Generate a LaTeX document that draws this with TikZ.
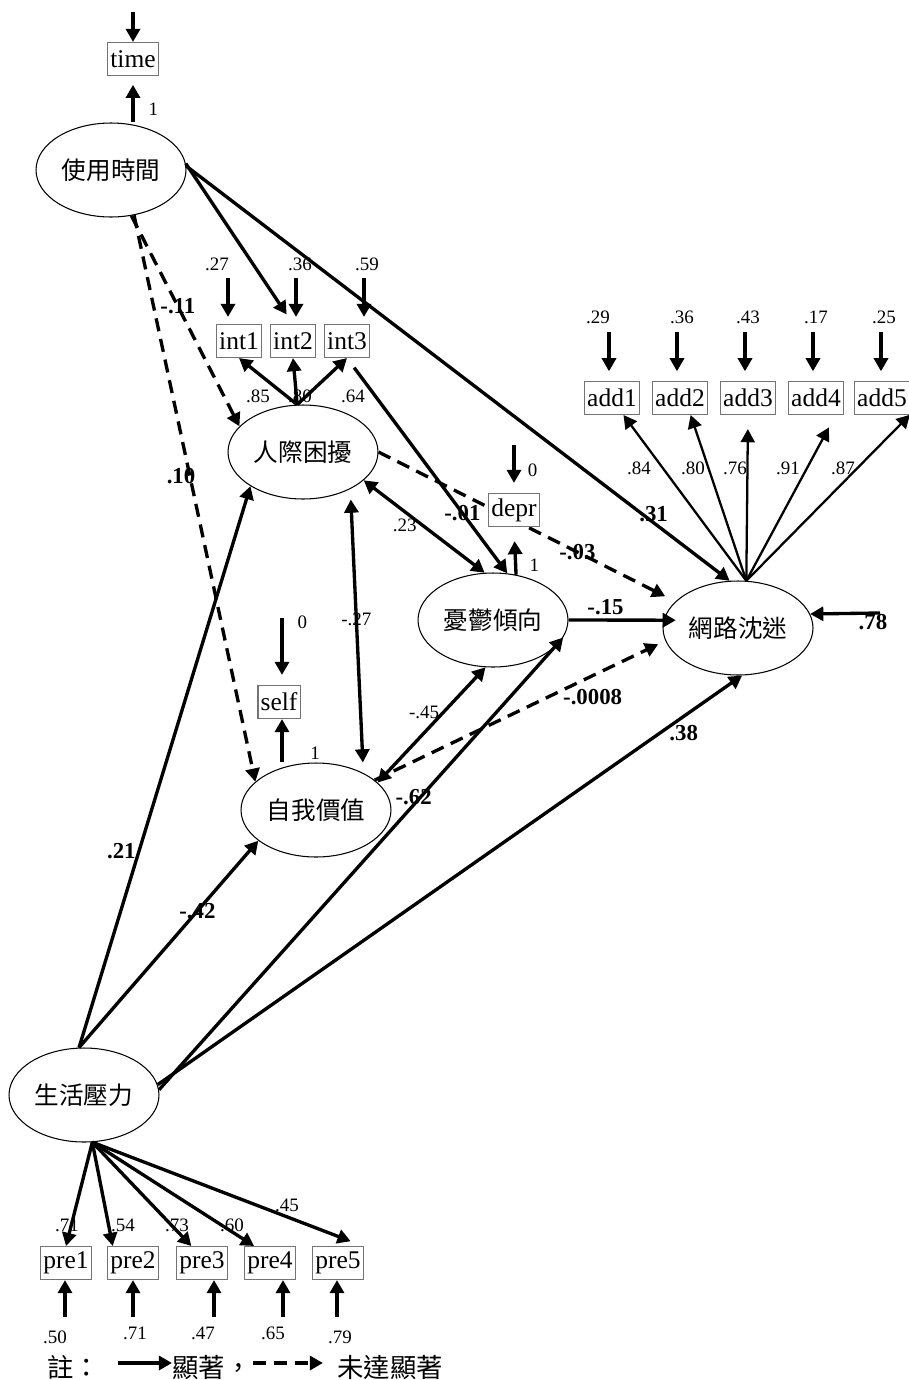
\documentclass[tikz,border=0pt]{standalone}
\usepackage{fontspec}
\setmainfont{Liberation Serif}
\newfontfamily\cjk{Noto Sans CJK TC}
\usetikzlibrary{arrows.meta,shapes.geometric}

\tikzstyle{latent}=[ellipse,draw,line width=0.6pt,minimum width=3cm,minimum height=1.88cm,inner sep=0pt,font=\cjk\fontsize{14}{16}\selectfont]
\tikzstyle{obs}=[rectangle,draw=black!55,fill=white,line width=0.6pt,inner xsep=1.5pt,inner ysep=0pt,minimum height=0.66cm,font=\fontsize{14.5}{16}\selectfont]
\tikzstyle{sig}=[->,line width=1.9pt]
\tikzstyle{nsig}=[sig,dash pattern=on 7.5pt off 4.5pt]
\tikzstyle{load}=[->,line width=1.3pt]
\tikzstyle{coef}=[inner sep=0pt,font=\fontsize{10.8}{12}\selectfont]
\tikzstyle{beta}=[inner sep=0pt,font=\bfseries\fontsize{13}{14}\selectfont]
\tikzstyle{legend}=[inner sep=0pt,font=\cjk\fontsize{15}{17}\selectfont]

\begin{document}
\begin{tikzpicture}[x=0.02cm, y=-0.02cm, >={Triangle[length=7.5pt,width=8pt]}]
	\useasboundingbox (0,0) rectangle (909,1380);

	% Latente Variablen
	\node(usage) at (111,170) [latent] {使用時間};
	\node(inter) at (303,452) [latent] {人際困擾};
	\node(depress) at (493,620) [latent] {憂鬱傾向};
	\node(addict) at (738,628) [latent] {網路沈迷};
	\node(selfw) at (316,810) [latent] {自我價值};
	\node(stress) at (84,1095) [latent] {生活壓力};

	% Indikatoren
	\node(time) at (133,59) [obs] {time};
	\foreach \i/\x in {1/239,2/293,3/347}
		\node(int\i) at (\x,341) [obs] {int\i};
	\foreach \i/\x in {1/612,2/680,3/748,4/816,5/882}
		\node(add\i) at (\x,398) [obs] {add\i};
	\node(self) at (279,702) [obs] {self};
	\foreach \i/\x in {1/66,2/133,3/202,4/270,5/338}
		\node(pre\i) at (\x,1263) [obs] {pre\i};

	% hinter depr
	\draw[nsig, shorten >=6.5pt] (inter.east) -- node[beta, pos=0.67]{-.03} (addict.157);
	\node(depr) at (514,510) [obs] {depr};

	% Pfade von usage
	\draw[sig, shorten >=5pt] (usage.north -| time) -- node[coef, pos=0.28, right=8pt]{1} (time.south);
	\draw[sig, shorten >=6.5pt] (usage.5) -- (int2.north);
	\draw[sig] (usage.3) -- node[beta, pos=0.86, yshift=5pt]{.31} (addict.100);
	\draw[nsig] (usage.-66) -- node[beta, pos=0.43]{-.11} (inter.158);
	\draw[nsig] (usage.-63) -- node[beta, pos=0.46, xshift=-5pt]{.10} (selfw.155);

	% Fehler
	\coordinate (etime) at (133,12);
	\draw[sig] (etime) -- (time.north);
	\foreach \i/\x/\lx/\val in {1/228/217/.27, 2/296/300/.36, 3/364/367/.59}
	{
		\coordinate (eint\i) at (\x,278);
		\draw[sig, shorten >=4pt] (eint\i) -- (eint\i |- int\i.north);
		\node[coef] at (\lx,264) {\val};
	}

	% Messmodell inter
	\foreach \i/\lx/\val in {1/258/.85, 2/300/.80, 3/353/.64}
	{
		\draw[sig] (inter.97) -- (int\i.south);
		\node[coef] at (\lx,396) {\val};
	}
	\draw[sig, shorten <=6.8pt] (int3.south) -- node[beta, pos=0.72]{-.01} (depress.73);

	% depr
	\coordinate (edepr) at (514,445);
	\draw[sig, shorten >=5.7pt] (edepr) -- node[coef, pos=0.52, right=7pt]{0} (depr.north);
	\draw[sig, shorten >=8pt] (depress.63) -- node[coef, pos=0.21, right=7pt]{1} (depr.south);

	% Strukturmodell
	\draw[sig, <->] (inter.-25) -- node[coef, pos=0.34, yshift=-8pt]{.23} (depress.100);
	\draw[sig, shorten >=-7pt] (depress.east) -- node[beta, pos=0.39, above=2pt]{-.15} (addict.174);
	\draw[nsig, shorten >=4.5pt] (selfw.27) -- node[beta, pos=0.75, below=7pt]{-.0008} (addict.190);
	\draw[sig, <->] (depress.-99) -- node[coef, pos=0.57, yshift=12pt]{-.45} (selfw.24);
	\draw[sig, <->, shorten <=6pt, shorten >=6pt] (inter.-38) -- node[coef, pos=0.46]{-.27} (selfw.38);

	% self
	\coordinate (eself) at (282,618);
	\draw[sig, shorten >=5.7pt] (eself) -- node[coef, pos=0.06, right=8pt]{0} (eself |- self.north);
	\draw[sig] (eself |- selfw.north) -- (eself |- self.south);
	\node[coef] at (315,753) {1};

	% Pfade von stress
	\draw[sig] (stress.96) -- node[beta, pos=0.35, left=1pt]{.21} (inter.-147);
	\draw[sig] (stress.96) -- node[beta, pos=0.66]{-.42} (selfw.-152);
	\draw[sig] (stress.4) -- node[beta, pos=0.63, yshift=4.5pt]{-.62} (depress.-14);
	\draw[sig] (stress.8) -- node[beta, pos=0.9, below=4pt]{.38} (addict.-85);

	% Messmodell addict
	\foreach \i/\a/\s/\lx/\val in {1/-56/0pt/639/.84, 2/-58/0pt/693/.80, 3/-90/8pt/735/.76, 4/-41/8pt/788/.91, 5/-31/0pt/843/.87}
	{
		\draw[load, shorten >=\s] (addict.80) -- (add\i.\a);
		\node[coef] at (\lx,468) {\val};
	}
	\foreach \i/\x/\lx/\val in {1/609/598/.29, 2/677/682/.36, 3/745/748/.43, 4/813/816/.17, 5/881/884/.25}
	{
		\coordinate (eadd\i) at (\x,332);
		\draw[sig, shorten >=5.5pt] (eadd\i) -- (eadd\i |- add\i.north);
		\node[coef] at (\lx,317) {\val};
	}
	\coordinate (eaddict) at (880,613);
	\draw[sig] (eaddict) -- (addict.11);
	\node[beta] at (873,622) {.78};

	% Messmodell stress
	\foreach \i/\a/\s/\lx/\ly/\val in {1/90/0pt/67/1225/.71, 2/140/0pt/123/1225/.54, 3/122/0pt/177/1225/.73, 4/133/0pt/232/1225/.60, 5/33/8pt/287/1205/.45}
	{
		\draw[sig, shorten >=\s] (stress.-80) -- (pre\i.\a);
		\node[coef] at (\lx,\ly) {\val};
	}
	\foreach \i/\x/\lx/\ly/\val in {1/65/55/1337/.50, 2/133/135/1333/.71, 3/214/203/1333/.47, 4/283/273/1333/.65, 5/337/340/1337/.79}
	{
		\coordinate (epre\i) at (\x,1317);
		\draw[sig] (epre\i) -- (epre\i |- pre\i.south);
		\node[coef] at (\lx,\ly) {\val};
	}

	% Legende
	\node(note) at (74,1367) [legend] {註：};
	\node(sigtext) at (172,1367) [legend, anchor=west] {顯著，};
	\node(nsigtext) at (337,1367) [legend, anchor=west] {未達顯著};
	\coordinate (lsig) at (118,1363);
	\coordinate (lnsig) at (253,1363);
	\draw[sig] (lsig) -- (sigtext.west |- lsig);
	\draw[nsig, shorten >=8pt] (lnsig) -- (nsigtext.west |- lnsig);

\end{tikzpicture}
\end{document}
